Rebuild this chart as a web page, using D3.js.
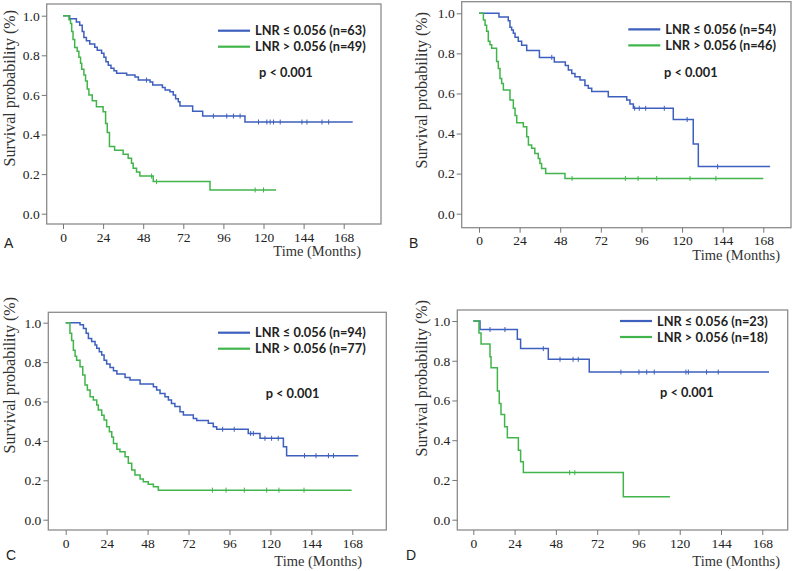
<!DOCTYPE html>
<html>
<head>
<meta charset="utf-8">
<script src="https://cdn.jsdelivr.net/npm/d3@7"></script>
<style>
  body { margin: 0; background: #fff; }
  svg { display: block; }
</style>
</head>
<body>
<svg id="chart" width="800" height="571"></svg>
<script>
// ticks shared by all four panels
const xTicks = [0, 24, 48, 72, 96, 120, 144, 168];
const yTicks = [0, 0.2, 0.4, 0.6, 0.8, 1.0];
const seriesNames = ["LNR \u2264 0.056", "LNR > 0.056"];
const panelLetters = ["A", "B", "C", "D"];
const groupSizes = [[63, 49], [54, 46], [94, 77], [23, 18]];

// steps: [month, survival after the drop]
const aLow = [[0,1],[4,0.984],[8,0.968],[10,0.952],[11.5,0.92],[12.5,0.89],[14,0.873],[16,0.857],[19,0.841],[20.5,0.825],[23.1,0.81],[24.5,0.79],[25.7,0.768],[27.1,0.75],[28.7,0.734],[30.5,0.722],[32.1,0.709],[38.1,0.7],[43.1,0.69],[45.1,0.675],[52.1,0.665],[53.7,0.65],[59.5,0.638],[61.1,0.625],[64,0.616],[66,0.6],[67.4,0.58],[69,0.566],[70,0.544],[77.6,0.518],[83.6,0.493],[108.9,0.463]];
const aHigh = [[0,1],[3.6,0.98],[4.5,0.96],[5.2,0.92],[6,0.88],[7,0.84],[8.5,0.82],[9.5,0.79],[10.5,0.76],[11.2,0.73],[12.5,0.7],[13.5,0.67],[14.5,0.63],[15.5,0.6],[17.5,0.57],[20,0.54],[24,0.515],[25.5,0.455],[26.5,0.41],[27.8,0.34],[30.9,0.32],[36,0.3],[39,0.28],[41,0.255],[42,0.23],[44,0.21],[46,0.19],[54,0.162],[88,0.12]];
const bLow = [[0,1],[11.8,0.981],[17.3,0.963],[18.3,0.93],[19.3,0.917],[20.3,0.9],[21.3,0.88],[23.2,0.86],[25.2,0.84],[28.2,0.814],[35.7,0.78],[44.5,0.757],[51,0.74],[52.8,0.717],[54.8,0.7],[56.7,0.684],[59.7,0.667],[62.6,0.64],[64.6,0.626],[66.6,0.61],[76.4,0.584],[87.3,0.567],[89.2,0.547],[91.2,0.526],[114.8,0.47],[126.6,0.348],[129.6,0.235]];
const bHigh = [[0,1],[2.6,0.967],[3.6,0.94],[4.5,0.91],[5.5,0.86],[6.5,0.843],[7.5,0.826],[10.4,0.76],[11.4,0.725],[12.4,0.675],[13.4,0.65],[14.4,0.617],[18.3,0.567],[20.3,0.526],[21.3,0.49],[22.3,0.454],[26.2,0.434],[28.2,0.384],[29.2,0.343],[31.1,0.326],[33,0.3],[35,0.276],[36,0.25],[37,0.226],[39.4,0.2],[50.8,0.176]];
const cLow = [[0,1],[8.4,0.99],[10.4,0.97],[12,0.946],[13.3,0.92],[15.2,0.904],[17.2,0.887],[18.2,0.87],[19.7,0.853],[21.1,0.836],[22.5,0.81],[24,0.79],[26,0.773],[28,0.756],[30,0.74],[34.8,0.722],[37.7,0.709],[43.6,0.689],[51.4,0.675],[53.3,0.658],[55.3,0.641],[58.2,0.624],[60.2,0.607],[62,0.59],[64,0.574],[67,0.548],[69,0.531],[74.8,0.514],[76.8,0.503],[83.6,0.49],[86.5,0.472],[88.5,0.459],[107,0.438],[113.9,0.413],[127.6,0.37],[129.5,0.325]];
const cHigh = [[0,1],[2.5,0.946],[3.5,0.91],[4.5,0.86],[5.5,0.83],[6.4,0.81],[8.4,0.777],[10,0.734],[11.3,0.684],[12.7,0.658],[14.3,0.624],[16.2,0.607],[18.2,0.582],[19.1,0.557],[21.1,0.53],[22.5,0.506],[24,0.472],[25.6,0.447],[27,0.42],[28,0.387],[30,0.357],[31.8,0.345],[34.8,0.32],[36.7,0.286],[38.7,0.252],[40.6,0.227],[43.6,0.206],[45.5,0.193],[48.4,0.18],[51.4,0.167],[54.3,0.15]];
const dLow = [[0,1],[3.9,0.957],[25.6,0.908],[27.5,0.861],[43.6,0.807],[67.4,0.743]];
const dHigh = [[0,1],[3.3,0.94],[4.5,0.884],[9.7,0.82],[10.3,0.765],[14,0.648],[15.1,0.585],[16.1,0.53],[18.2,0.468],[19.8,0.413],[26.2,0.35],[27.5,0.292],[29.1,0.237],[87.2,0.116]];

// last follow-up month of each curve
const lastFollowUp = [[173.4, 127.5], [172, 168], [171.5, 167.6], [171.9, 114.3]];

// censored months
const aLowCens = [50, 90, 98, 102, 106, 117, 122, 124, 126, 130, 143, 146, 155, 159];
const aHighCens = [53, 56, 115, 120];
const bLowCens = [43, 92, 94.7, 98.5, 109.5, 123, 141];
const bHighCens = [55, 86.5, 94, 105, 124.7, 140];
const cLowCens = [92, 98.8, 108.4, 110, 116.8, 120.7, 124.6, 140, 146.7, 154, 157];
const cHighCens = [86, 94, 104.7, 117.8, 125, 139.7];
const dLowCens = [9.7, 18.4, 40.7, 50.4, 58, 61, 85.8, 96.3, 100.8, 105.2, 123.6, 125, 135.6, 142.4];
const dHighCens = [56, 59];

const colors = ["#3d5fbe", "#41b54b"];

// page layout of each panel (frame box, pixel spots of 0..168 months and 0..1)
const layout = [
  { frame: [46.7, 4, 381, 224],     x: [63, 343.7],    y: [213.7, 15.7],  legX: 218,   legY: 30.7,  pX: 259,   pY: 77,    letter: [4, 248],   xLab: [361, 256], yLab: [15, 10] },
  { frame: [461.7, 1.7, 791, 227.7], x: [479, 763.3],  y: [213.7, 13.3],  legX: 628.3, legY: 29.3,  pX: 664,   pY: 76.5,  letter: [409, 248], xLab: [780, 260], yLab: [427, 12] },
  { frame: [48.3, 312.3, 386.3, 530], x: [65.7, 352.3], y: [519.7, 322.7], legX: 218,  legY: 332.7, pX: 265.7, pY: 398,   letter: [6, 560],   xLab: [362, 566], yLab: [15, 297] },
  { frame: [457.3, 310, 787.7, 530], x: [473.3, 762.3], y: [519.7, 321],  legX: 620,   legY: 321,   pX: 660,   pY: 396.5, letter: [406, 560], xLab: [780, 566], yLab: [427, 300] }
];

const curves = [[aLow, aHigh], [bLow, bHigh], [cLow, cHigh], [dLow, dHigh]];
const censored = [[aLowCens, aHighCens], [bLowCens, bHighCens], [cLowCens, cHighCens], [dLowCens, dHighCens]];

const svg = d3.select("#chart");
const serif = "'Liberation Serif', 'Times New Roman', serif";
const sans = "Lato, 'Open Sans', sans-serif";

function survAt(steps, t) {
  const i = d3.bisector(d => d[0]).right(steps, t) - 1;
  return steps[Math.max(0, i)][1];
}

layout.forEach((L, p) => {
  const g = svg.append("g");
  const x = d3.scaleLinear().domain([0, 168]).range(L.x);
  const y = d3.scaleLinear().domain([0, 1]).range(L.y);
  const [fx0, fy0, fx1, fy1] = L.frame;

  // frame
  g.append("rect")
    .attr("x", fx0).attr("y", fy0)
    .attr("width", fx1 - fx0).attr("height", fy1 - fy0)
    .attr("fill", "none").attr("stroke", "#8c8c8c").attr("stroke-width", 1.3);

  // axes
  const xAxis = g.append("g")
    .attr("transform", `translate(0,${fy1})`)
    .call(d3.axisBottom(x).tickValues(xTicks).tickSize(5).tickPadding(3).tickFormat(d3.format("d")));
  const yAxis = g.append("g")
    .attr("transform", `translate(${fx0},0)`)
    .call(d3.axisLeft(y).tickValues(yTicks).tickSize(5).tickPadding(2).tickFormat(d3.format(".1f")));
  [xAxis, yAxis].forEach(a => {
    a.select(".domain").remove();
    a.selectAll("line").attr("stroke", "#777");
    a.selectAll("text").attr("font-family", serif).attr("font-size", 13.5).attr("fill", "#222");
  });

  // survival curves
  const line = d3.line().x(d => x(d[0])).y(d => y(d[1])).curve(d3.curveStepAfter);
  curves[p].forEach((steps, s) => {
    const pts = steps.concat([[lastFollowUp[p][s], steps[steps.length - 1][1]]]);
    g.append("path")
      .attr("d", line(pts))
      .attr("fill", "none")
      .attr("stroke", colors[s])
      .attr("stroke-width", 1.5);

    g.selectAll(null)
      .data(censored[p][s])
      .join("line")
      .attr("x1", d => x(d)).attr("x2", d => x(d))
      .attr("y1", d => y(survAt(steps, d)) - 2.5)
      .attr("y2", d => y(survAt(steps, d)) + 2.5)
      .attr("stroke", colors[s])
      .attr("stroke-width", 1);
  });

  // legend
  seriesNames.forEach((name, s) => {
    const ly = L.legY + s * 16;
    g.append("line")
      .attr("x1", L.legX).attr("x2", L.legX + 32)
      .attr("y1", ly).attr("y2", ly)
      .attr("stroke", colors[s]).attr("stroke-width", 2.2);
    g.append("text")
      .attr("x", L.legX + 37).attr("y", ly + 4.5)
      .attr("font-family", sans).attr("font-weight", 700).attr("font-size", 12.8)
      .attr("fill", "#222")
      .text(`${name} (n=${groupSizes[p][s]})`);
  });

  g.append("text")
    .attr("x", L.pX).attr("y", L.pY)
    .attr("font-family", sans).attr("font-weight", 700).attr("font-size", 12.8)
    .attr("fill", "#222")
    .text("p < 0.001");

  // axis titles
  g.append("text")
    .attr("x", L.xLab[0]).attr("y", L.xLab[1])
    .attr("text-anchor", "end")
    .attr("font-family", serif).attr("font-size", 14.5)
    .attr("fill", "#333")
    .text("Time (Months)");

  g.append("text")
    .attr("transform", `translate(${L.yLab[0]},${L.yLab[1]}) rotate(-90)`)
    .attr("text-anchor", "end")
    .attr("font-family", serif).attr("font-size", 16)
    .attr("fill", "#333")
    .text("Survival probability (%)");

  g.append("text")
    .attr("x", L.letter[0]).attr("y", L.letter[1])
    .attr("font-family", "'Liberation Sans', Arial, sans-serif").attr("font-size", 14)
    .attr("fill", "#222")
    .text(panelLetters[p]);
});
</script>
</body>
</html>
